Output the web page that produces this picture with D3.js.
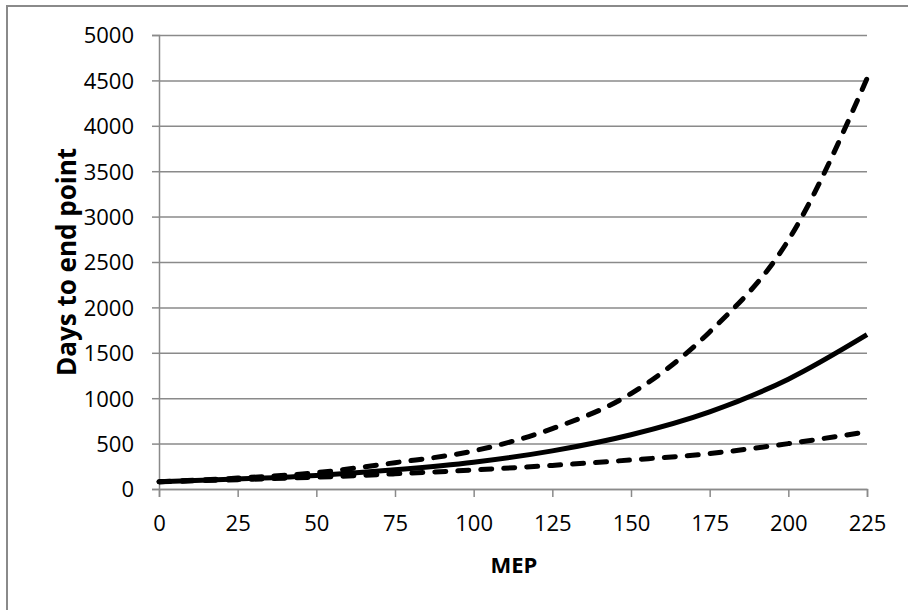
<!DOCTYPE html>
<html>
<head>
<meta charset="utf-8">
<script src="https://cdn.jsdelivr.net/npm/d3@7"></script>
<style>
  html, body { margin: 0; padding: 0; background: #fff; }
  svg { display: block; }
  text { font-family: "Open Sans", Lato, sans-serif; fill: #000; }
</style>
</head>
<body>
<svg id="chart" width="908" height="610"></svg>
<script>
// ---- Data ----
const mep = [0, 25, 50, 75, 100, 125, 150, 175, 200, 225];
const central = [80, 110, 150, 212, 295, 420, 598, 850, 1210, 1700];
const upper = [80, 120, 180, 290, 420, 665, 1050, 1730, 2740, 4520];
const lower = [80, 103, 130, 167, 210, 260, 320, 390, 500, 630];
const xTicks = [0, 25, 50, 75, 100, 125, 150, 175, 200, 225];
const yTicks = [0, 500, 1000, 1500, 2000, 2500, 3000, 3500, 4000, 4500, 5000];
const xTitle = "MEP";
const yTitle = "Days to end point";

const svg = d3.select("#chart");
const gray = "#8a8a8a";
const font = "'Open Sans', Lato, sans-serif";

// outer chart border
svg.append("rect")
  .attr("x", 7).attr("y", 6)
  .attr("width", 940).attr("height", 640)
  .attr("fill", "none").attr("stroke", gray).attr("stroke-width", 2);

const x = d3.scaleLinear().domain([0, 225]).range([159, 867]);
const y = d3.scaleLinear().domain([0, 5000]).range([489, 35]);

// gridlines + y axis
const yAxis = d3.axisLeft(y).tickValues(yTicks).tickSize(7).tickPadding(18)
  .tickFormat(d3.format("d"));
const gy = svg.append("g").attr("transform", `translate(${x(0)},0)`).call(yAxis);
gy.select(".domain").attr("stroke", gray).attr("stroke-width", 1.5);
gy.selectAll(".tick line").attr("stroke", gray).attr("stroke-width", 1.5);
gy.selectAll(".tick").append("line")
  .attr("x1", 0).attr("x2", x(225) - x(0))
  .attr("stroke", gray).attr("stroke-width", 1.5);
gy.selectAll(".tick text").attr("font-size", 22).attr("dy", "0.36em")
  .style("font-family", font);

// x axis
const xAxis = d3.axisBottom(x).tickValues(xTicks).tickSize(8).tickPadding(18)
  .tickFormat(d3.format("d"));
const gx = svg.append("g").attr("transform", `translate(0,${y(0)})`).call(xAxis);
gx.select(".domain").attr("stroke", gray).attr("stroke-width", 1.5);
gx.selectAll(".tick line").attr("stroke", gray).attr("stroke-width", 1.5);
gx.selectAll(".tick text").attr("font-size", 22)
  .style("font-family", font);

// curves
const line = (vals) => d3.line()
  .x((d, i) => x(mep[i]))
  .y(d => y(d))
  .curve(d3.curveMonotoneX)(vals);

svg.append("path").attr("d", line(lower))
  .attr("fill", "none").attr("stroke", "#000").attr("stroke-width", 5)
  .attr("stroke-dasharray", "11,12").attr("stroke-linecap", "round");
svg.append("path").attr("d", line(upper))
  .attr("fill", "none").attr("stroke", "#000").attr("stroke-width", 5)
  .attr("stroke-dasharray", "11,12").attr("stroke-linecap", "round");
svg.append("path").attr("d", line(central))
  .attr("fill", "none").attr("stroke", "#000").attr("stroke-width", 5);

// axis titles
svg.append("text").attr("x", 514).attr("y", 573)
  .attr("text-anchor", "middle").attr("font-size", 22).attr("font-weight", "bold")
  .style("font-family", font)
  .text(xTitle);
svg.append("text")
  .attr("transform", "translate(76,262) rotate(-90)")
  .attr("text-anchor", "middle").attr("font-size", 26).attr("font-weight", "bold")
  .style("font-family", font)
  .text(yTitle);
</script>
</body>
</html>
